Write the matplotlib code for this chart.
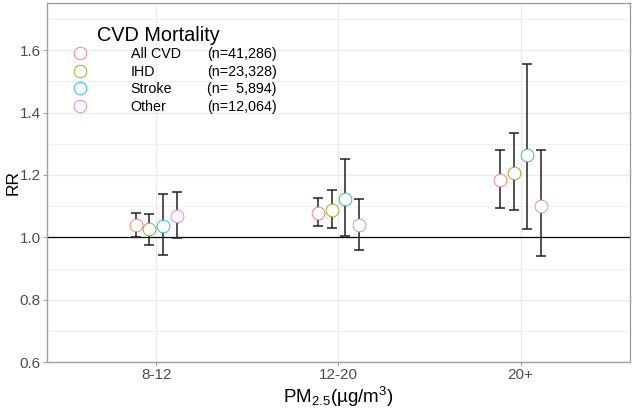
import numpy as np
import matplotlib
matplotlib.use('Agg')
import matplotlib.pyplot as plt
from matplotlib.lines import Line2D
from matplotlib.ticker import MultipleLocator

plt.rcParams['font.family'] = ['Liberation Sans', 'DejaVu Sans']
plt.rcParams['mathtext.fontset'] = 'custom'
plt.rcParams['mathtext.rm'] = 'Liberation Sans'
plt.rcParams['mathtext.it'] = 'Liberation Sans:italic'
plt.rcParams['mathtext.default'] = 'regular'

# data
groups = ['8-12', '12-20', '20+']
outcomes = ['All CVD', 'IHD', 'Stroke', 'Other']
counts = ['(n=41,286)', '(n=23,328)', '(n=  5,894)', '(n=12,064)']
colors = ['#F8766D', '#7CAE00', '#00BFC4', '#C77CFF']

rr = {
    'All CVD': [1.039, 1.077, 1.184],
    'IHD':     [1.026, 1.089, 1.206],
    'Stroke':  [1.035, 1.122, 1.264],
    'Other':   [1.069, 1.038, 1.099],
}
lower = {
    'All CVD': [1.002, 1.035, 1.095],
    'IHD':     [0.976, 1.029, 1.089],
    'Stroke':  [0.942, 1.004, 1.026],
    'Other':   [0.998, 0.958, 0.941],
}
upper = {
    'All CVD': [1.078, 1.125, 1.281],
    'IHD':     [1.076, 1.152, 1.335],
    'Stroke':  [1.139, 1.250, 1.557],
    'Other':   [1.146, 1.123, 1.281],
}

fig = plt.figure(figsize=(6.33, 4.09), dpi=100)
ax = fig.add_axes([0.0742, 0.1145, 0.9210, 0.8775])

x = np.arange(1, len(groups) + 1)
dodge = 0.075
offsets = (np.arange(len(outcomes)) - 1.5) * dodge

ax.axhline(1.0, color='black', lw=0.9, zorder=2)

handles = []
for i, name in enumerate(outcomes):
    xs = x + offsets[i]
    y = np.array(rr[name])
    lo = y - np.array(lower[name])
    hi = np.array(upper[name]) - y
    ax.errorbar(xs, y, yerr=[lo, hi], fmt='none', ecolor='#222222',
                elinewidth=1.1, capsize=3.3, capthick=1.1, zorder=3)
    ax.plot(xs, y, 'o', ms=9.2, mfc='white', mec=colors[i], mew=0.6,
            zorder=4, linestyle='none')
    handles.append(Line2D([], [], marker='o', ms=9.0, mfc='white',
                          mec=colors[i], mew=0.6, linestyle='none'))

ax.set_xlim(0.4, 3.6)
ax.set_ylim(0.6, 1.75)
ax.set_xticks(x)
ax.set_xticklabels(groups)
ax.yaxis.set_major_locator(MultipleLocator(0.2))
ax.yaxis.set_minor_locator(MultipleLocator(0.1))
ax.yaxis.set_major_formatter(matplotlib.ticker.FormatStrFormatter('%.1f'))

ax.grid(True, which='major', color='#EBEBEB', lw=1.0)
ax.grid(True, which='minor', axis='y', color='#F0F0F0', lw=0.7)
ax.set_axisbelow(True)
for s in ax.spines.values():
    s.set_color('#A0A0A0')
    s.set_linewidth(1.0)
ax.tick_params(axis='both', which='major', color='#A0A0A0', length=3,
               width=0.8, labelsize=11, labelcolor='#4D4D4D', pad=1.5)
ax.tick_params(axis='y', which='minor', length=0)

ax.set_ylabel('RR', fontsize=12.5)
ax.yaxis.set_label_coords(-0.046, 0.5)
ax.set_xlabel('PM$_{2.5}$(µg/m$^{3}$)', fontsize=13.5, labelpad=2)

leg = ax.legend(handles, outcomes, loc='upper left',
                bbox_to_anchor=(0.022, 0.893), frameon=False, fontsize=10.3,
                handlelength=2.0, handletextpad=2.55, labelspacing=0.24,
                borderaxespad=0)
ax.text(0.0857, 0.91, 'CVD Mortality', transform=ax.transAxes,
        fontsize=14.3, ha='left', va='center')

fig.canvas.draw()
inv = ax.transAxes.inverted()
for t, c in zip(leg.get_texts(), counts):
    bb = t.get_window_extent()
    yc = inv.transform(((bb.x0 + bb.x1) / 2, (bb.y0 + bb.y1) / 2))[1]
    ax.text(0.394, yc, c, transform=ax.transAxes, fontsize=10.3,
            ha='right', va='center')

fig.savefig('out.png', dpi=100)
